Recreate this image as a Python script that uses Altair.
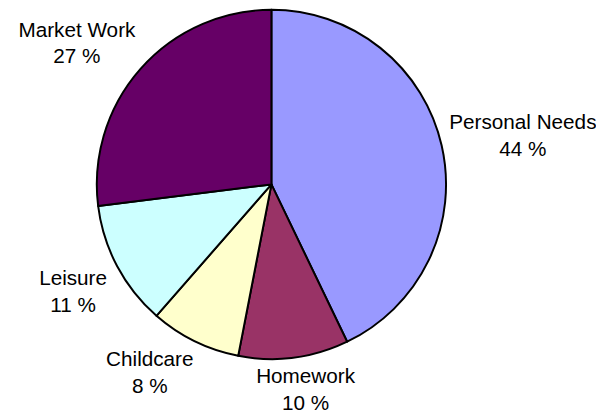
import altair as alt
import pandas as pd

labels = ["Personal Needs", "Homework", "Childcare", "Leisure", "Market Work"]
values = [42.9, 10.2, 8.4, 11.6, 27.0]
# percentages printed on the labels
pct_labels = [44, 10, 8, 11, 27]
colors = ["#9999FF", "#993366", "#FFFFCC", "#CCFFFF", "#660066"]

df = pd.DataFrame({
    "idx": list(range(len(labels))),
    "label": labels,
    "value": values,
})
df["txt"] = [f"{l}\n{p} %" for l, p in zip(labels, pct_labels)]

R = 177
cx, cy = 267, 176

pie = alt.Chart(df).mark_arc(outerRadius=R, stroke="black", strokeWidth=2, strokeJoin="round").encode(
    theta=alt.Theta("value:Q", stack=True),
    order=alt.Order("idx:Q", sort="ascending"),
    color=alt.Color("label:N", scale=alt.Scale(domain=labels, range=colors), legend=None),
    x=alt.value(cx),
    y=alt.value(cy),
)

text = alt.Chart(df).transform_joinaggregate(
    total="sum(value)"
).transform_window(
    cum="sum(value)", sort=[alt.SortField("idx", order="ascending")],
    frame=[None, 0]
).transform_calculate(
    mid="(datum.cum - datum.value/2) / datum.total * 2 * PI",
).transform_calculate(
    hw="length(datum.label) * 5.25",
    hh="21",
).transform_calculate(
    lx=f"{cx} + {R + 9} * sin(datum.mid) + datum.hw * clamp(2 * sin(datum.mid), -1, 1)",
    ly=f"{cy} - {R + 10} * cos(datum.mid) - datum.hh * clamp(2 * cos(datum.mid), -1, 1)",
).mark_text(
    font="Liberation Sans", fontSize=21, color="black", lineBreak="\n",
    lineHeight=27, align="center", baseline="middle", dy=-11
).encode(
    x=alt.X("lx:Q", scale=None),
    y=alt.Y("ly:Q", scale=None),
    text="txt:N",
)

chart = alt.layer(pie, text).properties(
    width=596, height=412, padding=0,
    autosize=alt.AutoSizeParams(type="none"),
).configure_view(stroke=None)

chart.save("out.html", embed_options={"renderer": "svg", "actions": False})
